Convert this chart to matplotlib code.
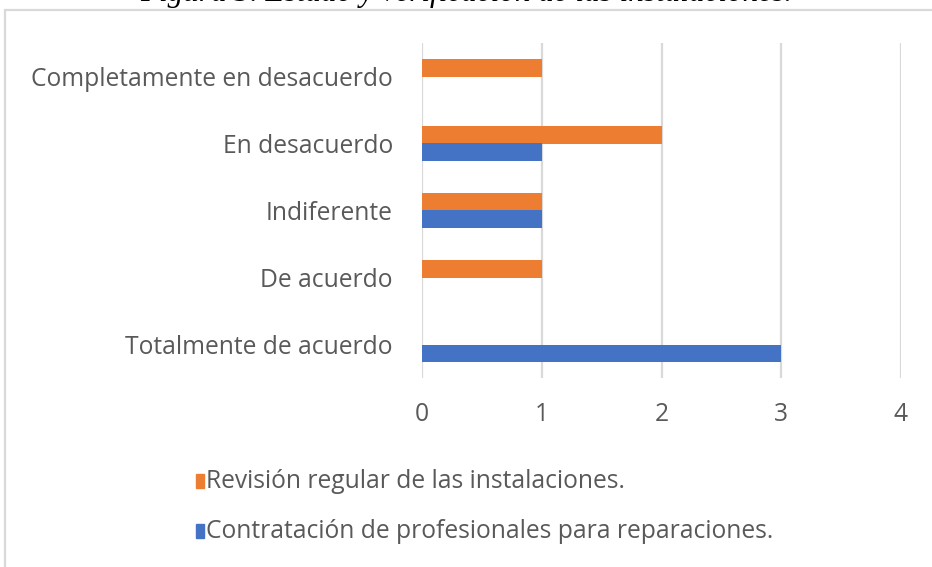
import numpy as np
import matplotlib as mpl

mpl.use('Agg')
import matplotlib.pyplot as plt
from matplotlib.patches import Rectangle

# Categories, top to bottom as shown on the chart
categorias = ["Completamente en desacuerdo", "En desacuerdo", "Indiferente",
              "De acuerdo", "Totalmente de acuerdo"]
revision = [1, 2, 1, 1, 0]
contratacion = [0, 1, 1, 0, 3]
xticks = [0, 1, 2, 3, 4]

serie_revision = "Revisión regular de las instalaciones."
serie_contratacion = "Contratación de profesionales para reparaciones."
titulo = "Figura 3. Estado y verificación de las instalaciones."

naranja = '#ED7D31'
azul = '#4472C4'
gris_texto = '#595959'
gris_linea = '#D9D9D9'

plt.rcParams['font.family'] = ['Open Sans', 'DejaVu Sans']

fig = plt.figure(figsize=(9.32, 5.67), dpi=100)
ax = fig.add_axes([422 / 932, 1 - 378 / 567, (901 - 422) / 932, (378 - 43) / 567])

# bottom category at y=0
n = len(categorias)
y = np.arange(n)[::-1]
h = 0.26
ax.barh(y + h / 2, revision, height=h, color=naranja, zorder=3)
ax.barh(y - h / 2, contratacion, height=h, color=azul, zorder=3)

ax.set_xlim(0, 4)
ax.set_ylim(-0.5, n - 0.5)
ax.set_xticks(xticks)
ax.set_yticks(y)
ax.set_yticklabels(categorias)
ax.tick_params(axis='both', length=0, labelsize=17.7, labelcolor=gris_texto)
ax.tick_params(axis='x', pad=17)
ax.tick_params(axis='y', pad=21)
for s in ax.spines.values():
    s.set_visible(False)
for xv in xticks:
    ax.axvline(xv, color=gris_linea, lw=1.6, zorder=1)

# legend drawn by hand, stacked
for ypix, color, label in [(481, naranja, serie_revision),
                           (531, azul, serie_contratacion)]:
    fig.add_artist(Rectangle((196 / 932, 1 - (ypix + 7) / 567), 8 / 932, 14 / 567,
                             transform=fig.transFigure, color=color))
    fig.text(206 / 932, 1 - ypix / 567, label, fontsize=17.7, color=gris_texto,
             va='center', ha='left')

# chart frame
fig.add_artist(Rectangle((5 / 932, -0.1), 1.2, (567 - 10) / 567 + 0.1,
                         transform=fig.transFigure, fill=False,
                         ec=gris_linea, lw=1.6))

fig.text(466 / 932, 1 - 1.5 / 567, titulo, fontsize=22.4, ha='center', va='baseline',
         family=['Liberation Serif', 'DejaVu Serif'], style='italic', color='black')

plt.savefig('out.png', dpi=100)
